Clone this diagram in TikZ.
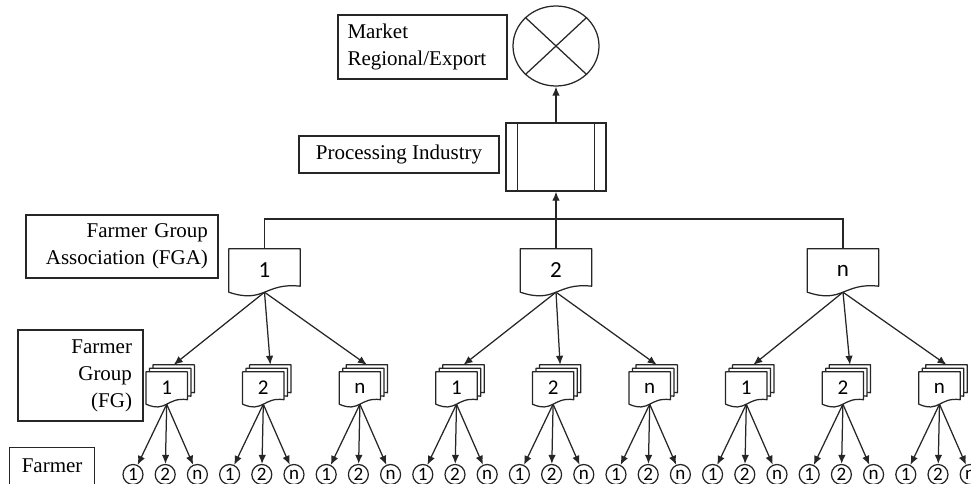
\documentclass[tikz,border=0pt]{standalone}
\usepackage{fontspec}
\setmainfont{Liberation Serif}
\newfontfamily\numfont{Carlito}
\usetikzlibrary{shapes.geometric,calc,backgrounds,arrows.meta}

\tikzset{
  line/.style={draw=black!85, line width=1.25pt},
  arrow/.style={line, -{Latex[length=9pt,width=7.5pt]}},
  labelbox/.style={line, rectangle, inner sep=0pt, font=\fontsize{21}{27}\selectfont},
  docnode/.style={rectangle, inner sep=0pt},
  fgadoc/.style={docnode, minimum width=71pt, minimum height=43pt, font=\numfont\fontsize{23}{23}\selectfont},
  fgdoc/.style={docnode, minimum width=41pt, minimum height=32pt, font=\numfont\fontsize{21}{21}\selectfont},
  farmer/.style={line, circle, minimum size=20pt, inner sep=0pt, font=\numfont\fontsize{19}{19}\selectfont},
  sheet/.style={line, fill=white, line join=round},
}

% Document sheet outline around a node: flat top, wavy bottom.
% #1 node, #2 rise of the right bottom corner, #3 depth of the wave, #4 offset of the sheet
\newcommand\docsheet[4]{%
  \filldraw[sheet] ($(#1.south west)+(#4,-#4)$) -- ($(#1.north west)+(#4,-#4)$)
    -- ($(#1.north east)+(#4,-#4)$) -- ($(#1.south east)+(#4,-#4-#2)$)
    .. controls ($(#1.south)+(#4,-#4-#2-#3/3)$) and ($(#1.south)+(#4,-#4+#3)$)
    .. ($(#1.south west)+(#4,-#4)$) -- cycle;}

\begin{document}
\begin{tikzpicture}[x=1pt, y=-1pt]
\useasboundingbox (0,0) rectangle (971,484);
\clip (0,0) rectangle (971,484);

% Market and processing
\node[line, ellipse, minimum width=86pt, minimum height=80pt, inner sep=0pt] (mkt) at (556,46) {};
\draw[line] (mkt.north west) -- (mkt.south east);
\draw[line] (mkt.north east) -- (mkt.south west);
\node[labelbox, minimum width=169pt, minimum height=64pt, align=left, text width=150pt] (marketlbl) at (422.5,47) {Market\\Regional/Export};

\node[line, rectangle, minimum width=100pt, minimum height=68pt, inner sep=0pt] (proc) at (556,157) {};
\draw[line] ($(proc.north west)+(12,0)$) -- ($(proc.south west)+(12,0)$);
\draw[line] ($(proc.north east)+(-12,0)$) -- ($(proc.south east)+(-12,0)$);
\node[labelbox, minimum width=200pt, minimum height=37pt] (proclbl) at (399,154.5) {Processing Industry};

\draw[arrow] (proc.north) -- (mkt.south);

% Level labels
\node[labelbox, minimum width=192pt, minimum height=63pt, align=right, text width=172pt] (fgalbl) at (122,246.5) {Farmer Group\\Association (FGA)};
\node[labelbox, minimum width=125pt, minimum height=91pt, align=right, text width=103pt] (fglbl) at (80.5,375.5) {Farmer\\Group\\(FG)};
\node[labelbox, anchor=north west, minimum width=85pt, text height=25pt, text depth=30pt] (farmerlbl) at (9,447) {Farmer};

% Farmer group associations
\foreach \g/\x/\lab in {1/264.5/1, 2/556/2, 3/843/n} {
  \node[fgadoc] (fga-\g) at (\x,270.5) {\lab};
}
\coordinate (bus) at (556,219);
\draw[line] (fga-1.north) |- (bus) -| (fga-3.north);
\draw[line] (fga-2.north) -- (bus);
\draw[arrow] (bus) -- (proc.south);

% Farmer groups
\foreach \k/\lab in {0/1,1/2,2/n,3/1,4/2,5/n,6/1,7/2,8/n} {
  \node[fgdoc] (fg-\k) at ({166.7+96.6*\k},388) {\lab};
  \coordinate (fgtop-\k) at ($(fg-\k.north)+(7,-7)$);
}

\begin{scope}[on background layer]
  \foreach \k in {0,...,8} {
    \docsheet{fg-\k}{4.5}{9}{7}
    \docsheet{fg-\k}{4.5}{9}{3.5}
    \docsheet{fg-\k}{4.5}{9}{0}
  }
  \foreach \g in {1,2,3} {\docsheet{fga-\g}{6}{12}{0}}
\end{scope}

\foreach \g in {1,2,3} {
  \foreach \j in {0,1,2} {
    \pgfmathtruncatemacro\k{3*(\g-1)+\j}
    \draw[arrow] (fga-\g.south) -- (fgtop-\k);
  }
}

% Farmers
\foreach \k in {0,...,8} {
  \foreach \j/\lab in {0/1,1/2,2/n} {
    \pgfmathsetmacro\xx{133+32.2*(3*\k+\j)}
    \node[farmer] (f-\k-\j) at (\xx,474.5) {\lab};
    \draw[arrow] (fg-\k.south) -- (f-\k-\j);
  }
}
\end{tikzpicture}
\end{document}
